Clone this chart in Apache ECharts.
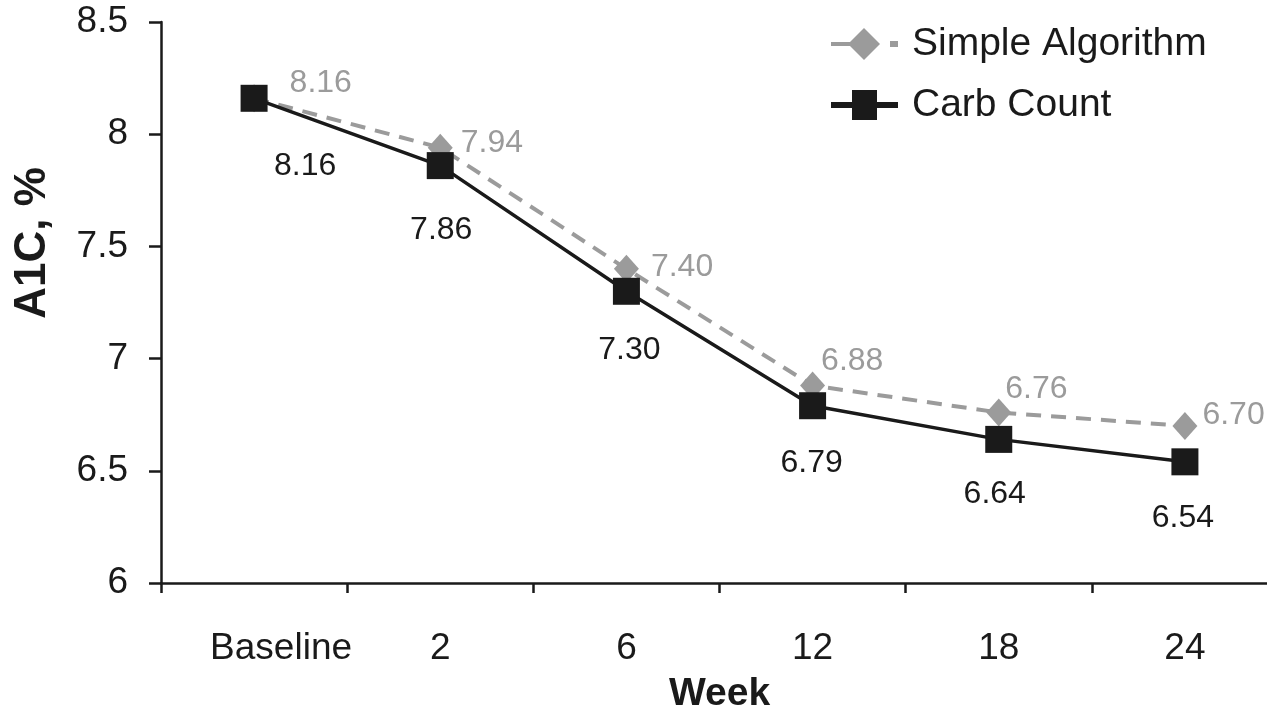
<!DOCTYPE html>
<html>
<head>
<meta charset="utf-8">
<script src="https://cdn.jsdelivr.net/npm/echarts@6/dist/echarts.min.js"></script>
<style>
html,body{margin:0;padding:0;background:#fff;overflow:hidden;}
#chart{width:1267px;height:709px;}
</style>
</head>
<body>
<div id="chart"></div>
<script>
var categories = ['Baseline', '2', '6', '12', '18', '24'];
var simpleAlgorithm = [8.16, 7.94, 7.40, 6.88, 6.76, 6.70];
var carbCount = [8.16, 7.86, 7.30, 6.79, 6.64, 6.54];
var yTicks = [6, 6.5, 7, 7.5, 8, 8.5];

var FONT = '"Liberation Sans", Arial, Helvetica, sans-serif';
var chart = echarts.init(document.getElementById('chart'));

var simpleOffsets = [[15, 1], [0, 12], [4, 14], [-12, -8], [-14, -7], [-3, 5]];
var carbOffsets = [[51, 12], [1, 9], [3, 3], [-1, 2], [-4, -1], [-2, 1]];

var simpleIcon = 'path://M0,16H22V20H0Z M33,2L49,18L33,34L17,18Z M59,15H67V21H59Z';
var carbIcon = 'path://M0,15H67V21H0Z M21,3H46V33H21Z';

function fmt(v){ return v.toFixed(2); }

var simpleData = simpleAlgorithm.map(function(v, i){
  return { value: v, label: { offset: simpleOffsets[i] } };
});
var carbData = carbCount.map(function(v, i){
  return { value: v, label: { offset: carbOffsets[i] } };
});

chart.setOption({
  animation: false,
  backgroundColor: '#fff',
  grid: { left: 161, right: -11, top: 22, bottom: 126, containLabel: false, outerBoundsMode: 'none' },
  legend: {
    orient: 'vertical',
    left: 826,
    top: 19,
    itemWidth: 67,
    itemHeight: 36,
    itemGap: 21,
    textStyle: { fontFamily: FONT, fontSize: 39, color: '#1a1a1a', lineHeight: 40, padding: [0, 0, 0, 9] },
    data: [
      { name: 'Simple Algorithm', icon: simpleIcon, itemStyle: { color: '#9b9b9b', borderWidth: 0 } },
      { name: 'Carb Count', icon: carbIcon, itemStyle: { color: '#1a1a1a', borderWidth: 0 } }
    ]
  },
  xAxis: {
    type: 'category',
    data: categories,
    boundaryGap: true,
    axisLine: { lineStyle: { color: '#1a1a1a', width: 2.5 } },
    axisTick: { show: true, interval: 0, length: 10, lineStyle: { color: '#1a1a1a', width: 2.5 } },
    axisLabel: {
      interval: 0,
      fontFamily: FONT, fontSize: 37, color: '#1a1a1a', margin: 47,
      formatter: function(v, i){ return i === 0 ? '{base|' + v + '}' : v; },
      rich: { base: { fontFamily: FONT, fontSize: 37, color: '#1a1a1a', padding: [0, 0, 0, 54] } }
    },
    name: 'Week',
    nameLocation: 'middle',
    nameGap: 92,
    nameTextStyle: { fontFamily: FONT, fontSize: 39, fontWeight: 'bold', color: '#1a1a1a' },
    splitLine: { show: false }
  },
  yAxis: {
    type: 'value',
    min: 6,
    max: 8.5,
    interval: 0.5,
    axisLine: { show: true, lineStyle: { color: '#1a1a1a', width: 2.5 } },
    axisTick: { show: true, length: 12, lineStyle: { color: '#1a1a1a', width: 2.5 } },
    axisLabel: {
      fontFamily: FONT, fontSize: 37, color: '#1a1a1a', margin: 33,
      formatter: function(v){ return yTicks.indexOf(v) >= 0 ? String(v) : ''; }
    },
    splitLine: { show: false }
  },
  graphic: [{
    type: 'text',
    x: 33, y: 243,
    rotation: Math.PI / 2,
    style: {
      text: 'A1C, %',
      font: 'bold 44px ' + FONT,
      fill: '#1a1a1a',
      align: 'center',
      verticalAlign: 'middle'
    }
  }],
  series: [
    {
      name: 'Simple Algorithm',
      type: 'line',
      data: simpleData,
      symbol: 'diamond',
      symbolSize: [25, 28],
      lineStyle: { color: '#9b9b9b', width: 4, type: [15, 10] },
      itemStyle: { color: '#9b9b9b' },
      label: {
        show: true, position: 'right', distance: 8,
        fontFamily: FONT, fontSize: 32, color: '#9b9b9b',
        verticalAlign: 'bottom',
        formatter: function(p){ return fmt(p.value); }
      },
      z: 2
    },
    {
      name: 'Carb Count',
      type: 'line',
      data: carbData,
      symbol: 'rect',
      symbolSize: 27,
      lineStyle: { color: '#1a1a1a', width: 3.5 },
      itemStyle: { color: '#1a1a1a' },
      label: {
        show: true, position: 'bottom', distance: 26,
        fontFamily: FONT, fontSize: 32, color: '#1a1a1a',
        formatter: function(p){ return fmt(p.value); }
      },
      z: 3
    }
  ]
});
</script>
</body>
</html>
